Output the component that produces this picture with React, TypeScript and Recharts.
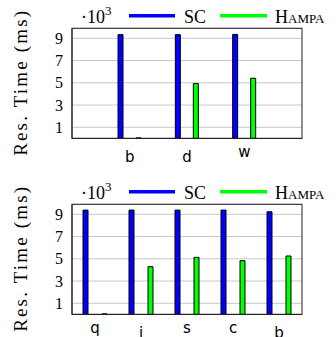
import { BarChart, Bar, XAxis, YAxis, CartesianGrid } from 'recharts';

// values in ms, axis shows them as ·10^3
const topCategories = ['b', 'd', 'w'];
const topSc = [9330, 9330, 9350];
const topHampa = [50, 4930, 5410];

const bottomCategories = ['q', 'i', 's', 'c', 'b'];
const bottomSc = [9380, 9380, 9380, 9380, 9230];
const bottomHampa = [50, 4290, 5130, 4830, 5250];

const yTicks = [1000, 3000, 5000, 7000, 9000];
const yMax = 9900;

const SERIF = '"Liberation Serif", "DejaVu Serif", serif';
const SANS = '"DejaVu Sans", sans-serif';
const FRAME = '#222';

const PLOT_LEFT = 72;
const PLOT_RIGHT = 302;

function CatTick(props: any) {
  const { x, y, payload } = props;
  const tall = /[bdfhikl]/.test(payload.value);
  return (
    <text x={x} y={y + (tall ? 23.5 : 19)} textAnchor="middle" fontFamily={SANS} fontSize={15} fill="#000">
      {payload.value}
    </text>
  );
}

function YTitle(props: any) {
  const { viewBox } = props;
  const cy = viewBox.y + viewBox.height / 2;
  const x = 26.7;
  return (
    <text
      x={x}
      y={cy}
      transform={`rotate(-90, ${x}, ${cy})`}
      textAnchor="middle"
      fontFamily={SERIF}
      fontSize={19}
      textLength={145}
      lengthAdjust="spacing"
      fill="#000"
    >
      Res. Time (ms)
    </text>
  );
}

// legend row, the ·10^3 factor and the plot frame
function Overlay({ plotTop, plotBottom, height }: { plotTop: number; plotBottom: number; height: number }) {
  const base = plotTop - 5.5;
  const lineY = plotTop - 12.6;
  return (
    <svg width={336} height={height} style={{ position: 'absolute', left: 0, top: 0, pointerEvents: 'none' }}>
      <rect
        x={PLOT_LEFT}
        y={plotTop}
        width={PLOT_RIGHT - PLOT_LEFT}
        height={plotBottom - plotTop}
        fill="none"
        stroke={FRAME}
        strokeWidth={1}
      />
      <text x={81} y={base} fontFamily={SERIF} fontSize={18} fill="#000">
        ·10<tspan dy={-8} fontSize={13}>3</tspan>
      </text>
      <line x1={129} x2={175} y1={lineY} y2={lineY} stroke="#0000ff" strokeWidth={3.4} />
      <text x={184} y={base} fontFamily={SERIF} fontSize={18} fill="#000">SC</text>
      <line x1={220} x2={267} y1={lineY} y2={lineY} stroke="#00ff00" strokeWidth={3.4} />
      <text x={275} y={base} fontFamily={SERIF} fontSize={18} fill="#000" style={{ fontVariant: 'small-caps' }}>
        Hampa
      </text>
    </svg>
  );
}

interface PanelProps {
  categories: string[];
  sc: number[];
  hampa: number[];
  top: number;
  height: number;
  plotTop: number;
  plotBottom: number;
  xPad: number;
  barGap: number;
}

function Panel({ categories, sc, hampa, top, height, plotTop, plotBottom, xPad, barGap }: PanelProps) {
  const data = categories.map((cat, i) => ({ cat, sc: sc[i], hampa: hampa[i] }));
  const axisH = height - plotBottom;
  return (
    <div style={{ position: 'absolute', left: 0, top, width: 336, height }}>
      <BarChart
        width={336}
        height={height}
        data={data}
        margin={{ top: plotTop, right: 336 - PLOT_RIGHT, bottom: 0, left: 0 }}
        barSize={5}
        barGap={barGap}
      >
        <CartesianGrid vertical={false} stroke="#c8c8c8" strokeWidth={1} />
        <XAxis
          dataKey="cat"
          height={axisH}
          padding={{ left: xPad, right: xPad }}
          tickLine={false}
          tickSize={0}
          tickMargin={0}
          axisLine={{ stroke: FRAME }}
          tick={<CatTick />}
          interval={0}
        />
        <YAxis
          type="number"
          domain={[0, yMax]}
          ticks={yTicks}
          interval={0}
          width={PLOT_LEFT}
          tickLine={false}
          tickSize={0}
          tickMargin={9}
          axisLine={{ stroke: FRAME }}
          tickFormatter={(v: number) => `${v / 1000}`}
          tick={{ fontFamily: SERIF, fontSize: 16, fill: '#000' }}
          label={<YTitle />}
        />
        <Bar dataKey="sc" fill="#0000ff" stroke="#000" strokeWidth={1} isAnimationActive={false} />
        <Bar dataKey="hampa" fill="#00ff00" stroke="#000" strokeWidth={1} isAnimationActive={false} />
      </BarChart>
      <Overlay plotTop={plotTop} plotBottom={plotBottom} height={height} />
    </div>
  );
}

export default function App() {
  return (
    <div style={{ position: 'absolute', left: 0, top: 0, width: 336, height: 337, background: '#fff', overflow: 'hidden' }}>
      <Panel
        categories={topCategories}
        sc={topSc}
        hampa={topHampa}
        top={0}
        height={170}
        plotTop={28.3}
        plotBottom={138.4}
        xPad={29}
        barGap={13}
      />
      <Panel
        categories={bottomCategories}
        sc={bottomSc}
        hampa={bottomHampa}
        top={176}
        height={170}
        plotTop={28.3}
        plotBottom={138.4}
        xPad={0}
        barGap={14}
      />
    </div>
  );
}
